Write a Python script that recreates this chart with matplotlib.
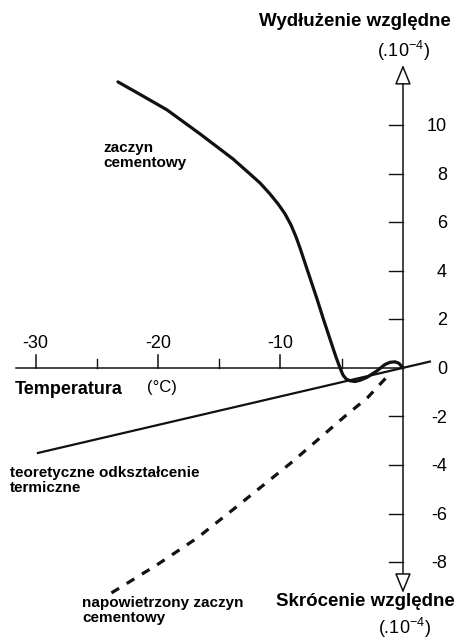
import matplotlib
matplotlib.use('Agg')
import matplotlib.pyplot as plt

plt.rcParams['font.family'] = ['Liberation Sans', 'DejaVu Sans']
plt.rcParams['mathtext.fontset'] = 'custom'
plt.rcParams['mathtext.rm'] = 'Liberation Sans'

# dane (temperatura w °C, odksztalcenie w 1e-4)
zaczyn_x = [-23.27, -21.31, -19.27, -16.57, -13.88, -12.49, -11.67, -10.86,
            -10.2, -9.63, -9.14, -8.73, -8.41, -8.0, -7.59, -7.02, -6.53,
            -5.96, -5.47, -5.14, -4.9, -4.65, -4.33, -3.92, -3.51, -2.94,
            -2.12, -1.47, -1.06, -0.65, -0.33, 0.0]
zaczyn_y = [11.77, 11.21, 10.62, 9.63, 8.6, 7.98, 7.61, 7.16,
            6.75, 6.34, 5.88, 5.39, 4.94, 4.32, 3.7, 2.84, 2.06,
            1.19, 0.45, 0.0, -0.29, -0.45, -0.53, -0.56, -0.51, -0.39,
            -0.12, 0.14, 0.23, 0.25, 0.19, 0.0]

teoria_x = [-29.8, 2.2]
teoria_y = [-3.5, 0.26]

napow_x = [-23.8, -20.1, -16.8, -13.7, -9.0, -4.6, -2.9, -1.0]
napow_y = [-9.26, -8.11, -7.0, -5.76, -3.85, -1.93, -1.23, -0.2]

x_major = [-30, -20, -10]
x_minor = [-25, -15, -5]
y_ticks = [-8, -6, -4, -2, 0, 2, 4, 6, 8, 10]
y_tick_marks = [-8, -6, -4, -2, 2, 4, 6, 8, 10]

fig = plt.figure(figsize=(4.62, 6.42), dpi=100)
ax = fig.add_axes([0, 0, 1, 1])
ax.set_xlim(-32.9, 4.82)
ax.set_ylim(-11.28, 15.14)
ax.axis('off')

kolor = '#111111'

# osie
ax.plot([-31.6, 0], [0, 0], color=kolor, lw=1.1)
ax.plot([0, 0], [-8.64, 11.77], color=kolor, lw=1.1)
# puste groty strzalek na koncach osi pionowej
for y_base, y_end in [(11.77, 12.47), (-8.64, -9.26)]:
    ax.annotate('', xy=(0, y_end), xytext=(0, y_base),
                arrowprops=dict(arrowstyle='-|>,head_length=1.22,head_width=0.5',
                                fc='white', ec=kolor, lw=1.1,
                                shrinkA=0, shrinkB=0, mutation_scale=10))

for t in x_major:
    ax.plot([t, t], [0, 0.53], color=kolor, lw=1.1)
    ax.text(t, 0.82, str(t), ha='center', va='baseline', fontsize=13)
for t in x_minor:
    ax.plot([t, t], [0, 0.37], color=kolor, lw=1.0)
for t in y_tick_marks:
    ax.plot([-1.14, 0], [t, t], color=kolor, lw=1.0)
for t in y_ticks:
    ax.text(3.59, t - 0.25, str(t), ha='right', va='baseline', fontsize=13)

# krzywe
ax.plot(zaczyn_x, zaczyn_y, color=kolor, lw=2.3, solid_joinstyle='round',
        solid_capstyle='round')
ax.plot(teoria_x, teoria_y, color=kolor, lw=1.6)
ax.plot(napow_x, napow_y, color=kolor, lw=2.3, dashes=(2.8, 2.8))

# opisy
ax.text(-3.92, 14.24, 'Wydłużenie względne', ha='center', va='center',
        fontsize=13.5, fontweight='bold')
ax.text(0.08, 12.8, '(.10$^{-4}$)', ha='center', va='baseline', fontsize=13)
ax.text(-3.1, -9.63, 'Skrócenie względne', ha='center', va='center',
        fontsize=13.5, fontweight='bold')
ax.text(0.16, -10.97, '(.10$^{-4}$)', ha='center', va='baseline', fontsize=13)
ax.text(-31.67, -0.88, 'Temperatura', ha='left', va='center',
        fontsize=13, fontweight='bold')
ax.text(-20.9, -0.82, '(°C)', ha='left', va='center', fontsize=12)
ax.text(-24.5, 9.35, 'zaczyn\ncementowy', ha='left', va='top',
        fontsize=11, fontweight='bold', linespacing=1.1)
ax.text(-32.1, -4.05, 'teoretyczne odkształcenie\ntermiczne', ha='left', va='top',
        fontsize=11, fontweight='bold', linespacing=1.1)
ax.text(-26.2, -9.4, 'napowietrzony zaczyn\ncementowy', ha='left', va='top',
        fontsize=11, fontweight='bold', linespacing=1.1)

fig.savefig('out.png', dpi=100)
